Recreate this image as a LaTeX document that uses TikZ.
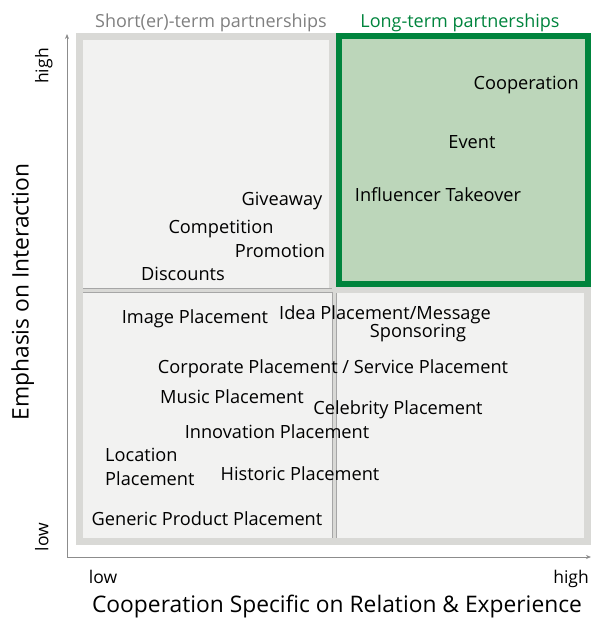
\documentclass[tikz,border=0pt]{standalone}
\usepackage{fontspec}
\setmainfont{Open Sans}
\usetikzlibrary{arrows.meta}

\definecolor{quadfill}{HTML}{F2F2F1}
\definecolor{framegray}{HTML}{D9D9D6}
\definecolor{sepgray}{HTML}{A6A6A6}
\definecolor{axisgray}{HTML}{8C8C8C}
\definecolor{longgreen}{HTML}{00843D}
\definecolor{longfill}{HTML}{BCD6BA}
\definecolor{titlegray}{HTML}{808080}

\tikzset{
	item/.style={draw=none,fill=none,inner sep=0pt,text height=15pt,text depth=0pt,
		font=\fontsize{18.2}{21}\selectfont},
	heading/.style={item,font=\fontsize{18}{21}\selectfont},
	axislabel/.style={item,text height=16pt,text depth=5pt,font=\fontsize{22.8}{26}\selectfont},
	tick/.style={item,text height=13pt,text depth=4pt,font=\fontsize{17.5}{21}\selectfont},
	axis/.style={axisgray,line width=0.8pt,-{Stealth[length=5pt,width=4pt]}},
	sep/.style={sepgray,line width=0.7pt},
}

\begin{document}
\begin{tikzpicture}[x=1pt,y=-1pt]
	\useasboundingbox (0,0) rectangle (591,619);

	\fill[framegray] (76,33) rectangle (591,545);
	\fill[quadfill] (83,40) rectangle (329,288);
	\fill[quadfill] (83,292) rectangle (332,538);
	\fill[quadfill] (336,293) rectangle (584,538);
	\draw[sep] (83,288) -- (332,288);
	\draw[sep] (83,292) -- (332,292);
	\draw[sep] (332,292) -- (332,538);
	\draw[sep] (336,293) -- (336,538);
	\draw[longgreen,line width=6pt,fill=longfill] (339,36) rectangle (588,284);

	\coordinate (o) at (67,557);
	\coordinate (ytop) at (67,34);
	\coordinate (xend) at (591,557);
	\draw[axis] (o) -- (ytop);
	\draw[axis] (o) -- (xend);

	\node[heading,text=titlegray] (short) at (211,20) {Short(er)-term partnerships};
	\node[heading,text=longgreen] (long) at (460,20) {Long-term partnerships};

	\node[tick,rotate=90] (yhigh) at (44,66) {high};
	\node[tick,rotate=90] (ylow) at (44,537) {low};
	\node[tick] (xlow) at (103,579) {low};
	\node[tick] (xhigh) at (571,579) {high};
	\node[axislabel,rotate=90] (ylabel) at (23,292) {Emphasis on Interaction};
	\node[axislabel] (xlabel) at (337,606.5) {Cooperation Specific on Relation \& Experience};

	\node[item,anchor=east] (coop) at (579,82) {Cooperation};
	\node[item] (event) at (472,141) {Event};
	\node[item] (takeover) at (438,194) {Influencer Takeover};

	\node[item] (giveaway) at (282,198) {Giveaway};
	\node[item] (competition) at (221,226) {Competition};
	\node[item] (promotion) at (280,250) {Promotion};
	\node[item] (discounts) at (183,273) {Discounts};

	\node[item] (image) at (195,316) {Image Placement};
	\node[item] (idea) at (385,312) {Idea Placement/Message};
	\node[item] (sponsoring) at (418,330) {Sponsoring};
	\node[item] (corporate) at (333,366) {Corporate Placement / Service Placement};
	\node[item] (music) at (232,396) {Music Placement};
	\node[item] (celebrity) at (398,407) {Celebrity Placement};
	\node[item] (innovation) at (277,431) {Innovation Placement};
	\node[item,anchor=west] (location) at (105,454) {Location};
	\node[item,anchor=west] (locationb) at (105,478) {Placement};
	\node[item] (historic) at (300,473) {Historic Placement};
	\node[item] (generic) at (207,518) {Generic Product Placement};

\end{tikzpicture}
\end{document}
